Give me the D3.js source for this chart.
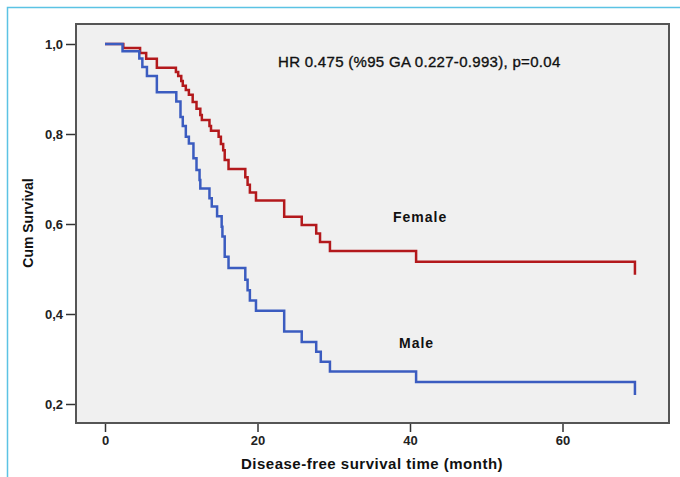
<!DOCTYPE html>
<html>
<head>
<meta charset="utf-8">
<script src="https://cdn.jsdelivr.net/npm/d3@7"></script>
<style>
  body { margin: 0; background: #fff; }
  svg { display: block; font-family: "Liberation Sans", Arial, sans-serif; }
  .tick text { font-weight: bold; fill: #222; }
  .tick line { stroke: #333; stroke-width: 1.5; }
</style>
</head>
<body>
<svg id="chart" width="680" height="477"></svg>
<script>
// survival steps (time in months, cumulative survival)
var femaleTime = [0, 2.4, 4.6, 5.4, 6.8, 9.3, 9.6, 10.0, 10.2, 10.6, 11.0, 11.5, 12.0, 12.5, 12.7, 13.7, 13.9,
    14.9, 15.2, 15.5, 15.7, 16.2, 18.4, 18.7, 19.0, 19.8, 23.5, 25.8, 27.7, 28.2, 29.5, 40.8, 69.5];
var femaleSurv = [1.0, 0.991, 0.980, 0.967, 0.947, 0.938, 0.929, 0.918, 0.907, 0.898, 0.887, 0.871, 0.856, 0.842, 0.831, 0.818, 0.807,
    0.794, 0.778, 0.764, 0.742, 0.722, 0.704, 0.687, 0.670, 0.652, 0.616, 0.598, 0.579, 0.560, 0.540, 0.516, 0.487];

var maleTime = [0, 2.3, 4.5, 4.9, 5.5, 6.8, 9.35, 9.9, 10.2, 10.6, 11.0, 11.6, 12.0, 12.4, 12.5, 13.7, 14.0,
    14.7, 15.3, 15.4, 15.7, 16.2, 18.4, 18.7, 19.0, 19.8, 23.5, 25.8, 27.7, 28.3, 29.5, 40.8, 69.5];
var maleSurv = [1.0, 0.984, 0.968, 0.949, 0.929, 0.893, 0.872, 0.838, 0.818, 0.794, 0.779, 0.746, 0.720, 0.698, 0.679, 0.657, 0.639,
    0.617, 0.594, 0.572, 0.527, 0.502, 0.476, 0.453, 0.430, 0.407, 0.361, 0.338, 0.316, 0.294, 0.272, 0.249, 0.220];

var xTicks = [0, 20, 40, 60];
var yTicks = [0.2, 0.4, 0.6, 0.8, 1.0];

var svg = d3.select('#chart');

// outer frame (light blue top and left edges)
svg.append('path')
    .attr('d', 'M7.5,477V7.5H680')
    .attr('fill', 'none')
    .attr('stroke', '#5cc3e4')
    .attr('stroke-width', 1.5);

var plot = { left: 76, top: 24, right: 669, bottom: 423 };

var x = d3.scaleLinear().domain([0, 60]).range([105, 562.5]);
var y = d3.scaleLinear().domain([0.2, 1.0]).range([404, 44]);

svg.append('rect')
    .attr('x', plot.left)
    .attr('y', plot.top)
    .attr('width', plot.right - plot.left)
    .attr('height', plot.bottom - plot.top)
    .attr('fill', '#f0f0f0')
    .attr('stroke', '#555')
    .attr('stroke-width', 2);

var yAxis = svg.append('g')
    .attr('transform', 'translate(' + (plot.left - 1) + ',0)')
    .call(d3.axisLeft(y)
        .tickValues(yTicks)
        .tickSize(9)
        .tickPadding(3)
        .tickFormat(function (d) { return d3.format('.1f')(d).replace('.', ','); }));
yAxis.select('.domain').remove();
yAxis.selectAll('text').style('font-size', '13px');

var xAxis = svg.append('g')
    .attr('transform', 'translate(0,' + (plot.bottom + 1) + ')')
    .call(d3.axisBottom(x)
        .tickValues(xTicks)
        .tickSize(8)
        .tickPadding(4)
        .tickFormat(d3.format('d')));
xAxis.select('.domain').remove();
xAxis.selectAll('text').style('font-size', '13px');

var line = d3.line()
    .x(function (d) { return x(d[0]); })
    .y(function (d) { return y(d[1]); })
    .curve(d3.curveStepAfter);

var series = [
    { name: 'Female', time: femaleTime, surv: femaleSurv, color: '#b3191c' },
    { name: 'Male', time: maleTime, surv: maleSurv, color: '#3b5cc0' }
];

svg.selectAll('path.km')
    .data(series)
    .enter()
    .append('path')
    .classed('km', true)
    .attr('fill', 'none')
    .attr('stroke', function (d) { return d.color; })
    .attr('stroke-width', 2.5)
    .attr('d', function (d) { return line(d3.zip(d.time, d.surv)); });

// annotations
svg.append('text')
    .attr('x', 278)
    .attr('y', 67)
    .style('font-size', '15px')
    .style('letter-spacing', '0.3px')
    .attr('fill', '#111')
    .attr('stroke', '#111')
    .attr('stroke-width', 0.35)
    .text('HR 0.475 (%95 GA 0.227-0.993), p=0.04');

svg.append('text')
    .attr('x', 393)
    .attr('y', 222)
    .style('font-size', '14px')
    .style('font-weight', 'bold')
    .style('letter-spacing', '1px')
    .attr('fill', '#111')
    .text('Female');

svg.append('text')
    .attr('x', 399)
    .attr('y', 348)
    .style('font-size', '14px')
    .style('font-weight', 'bold')
    .style('letter-spacing', '1px')
    .attr('fill', '#111')
    .text('Male');

// axis titles
svg.append('text')
    .attr('x', 372)
    .attr('y', 469)
    .attr('text-anchor', 'middle')
    .style('font-size', '15px')
    .style('font-weight', 'bold')
    .style('letter-spacing', '0.5px')
    .attr('fill', '#111')
    .text('Disease-free survival time (month)');

svg.append('text')
    .attr('transform', 'translate(33,223) rotate(-90)')
    .attr('text-anchor', 'middle')
    .style('font-size', '14px')
    .style('font-weight', 'bold')
    .attr('fill', '#111')
    .text('Cum Survival');
</script>
</body>
</html>
